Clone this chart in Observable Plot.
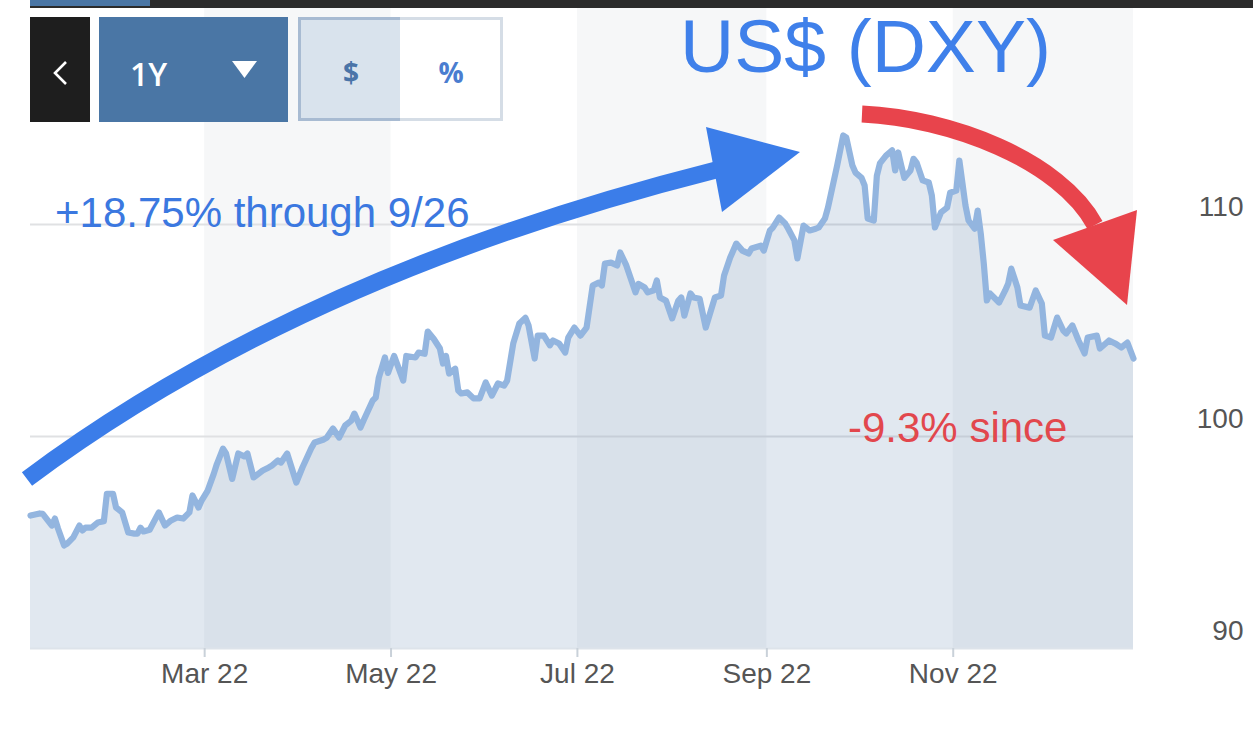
<!DOCTYPE html>
<html><head><meta charset="utf-8">
<script src="https://cdn.jsdelivr.net/npm/d3@7"></script>
<script src="https://cdn.jsdelivr.net/npm/@observablehq/plot@0.6"></script>
<style>
html,body{margin:0;padding:0;background:#fff;}
body{width:1253px;height:731px;overflow:hidden;position:relative;font-family:"Liberation Sans",Arial,sans-serif;}
#chart{position:absolute;left:0;top:0;}
#ann{position:absolute;left:0;top:0;}
.abs{position:absolute;box-sizing:border-box;}
</style></head><body>
<div id="chart"></div>
<svg id="ann" width="1253" height="731"></svg>
<div class="abs" style="left:30px;top:0;width:1223px;height:8px;background:#2b2b2b"></div>
<div class="abs" style="left:30px;top:0;width:120px;height:6px;background:#4a76a5"></div>
<div class="abs" style="left:30px;top:17px;width:60px;height:105px;background:#1e1e1e">
  <svg width="60" height="105"><polyline points="36,45 25,56 36,67" stroke="#fff" stroke-width="2.6" fill="none"/></svg>
</div>
<div class="abs" style="left:99px;top:17px;width:189px;height:105px;background:#4a76a5">
  <svg width="189" height="105">
    <text x="31" y="69" fill="#fff" font-family="Open Sans, sans-serif" font-weight="600" font-size="32">1Y</text>
    <polygon points="133,44 158,44 145.5,61" fill="#fff"/>
  </svg>
</div>
<div class="abs" style="left:298px;top:17px;width:102px;height:104px;background:#d9e3ed;border:3px solid #a8bbd2;border-right:none">
  <svg width="99" height="98" style="position:absolute;left:0;top:0"><text x="50" y="63" text-anchor="middle" fill="#4a74a8" font-family="Open Sans, sans-serif" font-weight="700" font-size="28">$</text></svg>
</div>
<div class="abs" style="left:400px;top:17px;width:103px;height:104px;background:#fff;border:3px solid #d5dde6;border-left:none">
  <svg width="100" height="98" style="position:absolute;left:0;top:0"><text x="51" y="63" text-anchor="middle" fill="#4a7dd0" font-family="Open Sans, sans-serif" font-weight="700" font-size="28">%</text></svg>
</div>
<script>
const dates = ["2022-01-03","2022-01-06","2022-01-07","2022-01-10","2022-01-11","2022-01-12","2022-01-14","2022-01-15","2022-01-17","2022-01-19","2022-01-20","2022-01-21","2022-01-23","2022-01-25","2022-01-27","2022-01-28","2022-01-30","2022-01-31","2022-02-02","2022-02-04","2022-02-06","2022-02-07","2022-02-08","2022-02-09","2022-02-11","2022-02-14","2022-02-16","2022-02-18","2022-02-20","2022-02-22","2022-02-24","2022-02-25","2022-02-27","2022-02-28","2022-03-02","2022-03-04","2022-03-05","2022-03-07","2022-03-08","2022-03-10","2022-03-12","2022-03-14","2022-03-15","2022-03-17","2022-03-20","2022-03-22","2022-03-23","2022-03-25","2022-03-26","2022-03-28","2022-03-31","2022-04-02","2022-04-05","2022-04-06","2022-04-09","2022-04-10","2022-04-12","2022-04-14","2022-04-16","2022-04-18","2022-04-19","2022-04-21","2022-04-22","2022-04-25","2022-04-26","2022-04-27","2022-04-29","2022-04-30","2022-05-02","2022-05-05","2022-05-06","2022-05-09","2022-05-10","2022-05-12","2022-05-13","2022-05-15","2022-05-17","2022-05-18","2022-05-19","2022-05-20","2022-05-22","2022-05-23","2022-05-24","2022-05-26","2022-05-28","2022-05-30","2022-06-01","2022-06-03","2022-06-05","2022-06-07","2022-06-08","2022-06-10","2022-06-12","2022-06-14","2022-06-15","2022-06-17","2022-06-18","2022-06-20","2022-06-22","2022-06-23","2022-06-25","2022-06-27","2022-06-28","2022-06-30","2022-07-02","2022-07-04","2022-07-06","2022-07-08","2022-07-09","2022-07-10","2022-07-12","2022-07-14","2022-07-15","2022-07-17","2022-07-20","2022-07-21","2022-07-23","2022-07-24","2022-07-26","2022-07-27","2022-07-28","2022-07-30","2022-08-01","2022-08-03","2022-08-04","2022-08-05","2022-08-07","2022-08-08","2022-08-10","2022-08-12","2022-08-15","2022-08-17","2022-08-18","2022-08-20","2022-08-22","2022-08-24","2022-08-26","2022-08-27","2022-08-30","2022-08-31","2022-09-02","2022-09-03","2022-09-05","2022-09-07","2022-09-08","2022-09-10","2022-09-11","2022-09-13","2022-09-15","2022-09-17","2022-09-18","2022-09-20","2022-09-21","2022-09-22","2022-09-24","2022-09-26","2022-09-27","2022-09-29","2022-09-30","2022-10-02","2022-10-03","2022-10-04","2022-10-06","2022-10-07","2022-10-08","2022-10-10","2022-10-12","2022-10-13","2022-10-14","2022-10-15","2022-10-16","2022-10-18","2022-10-19","2022-10-20","2022-10-22","2022-10-24","2022-10-25","2022-10-26","2022-10-28","2022-10-30","2022-10-31","2022-11-02","2022-11-03","2022-11-05","2022-11-06","2022-11-08","2022-11-09","2022-11-10","2022-11-11","2022-11-12","2022-11-13","2022-11-16","2022-11-18","2022-11-19","2022-11-20","2022-11-22","2022-11-23","2022-11-26","2022-11-28","2022-11-30","2022-12-01","2022-12-03","2022-12-05","2022-12-07","2022-12-08","2022-12-10","2022-12-12","2022-12-14","2022-12-15","2022-12-18","2022-12-19","2022-12-22","2022-12-24","2022-12-26","2022-12-28","2022-12-30"];
const values = [96.27,96.37,96.35,95.8,96.13,95.66,94.86,94.95,95.24,95.8,95.57,95.7,95.7,95.94,96.0,97.3,97.3,96.65,96.42,95.47,95.42,95.42,95.7,95.52,95.6,96.42,95.8,96.04,96.18,96.13,96.42,97.22,96.65,96.98,97.45,98.25,98.7,99.43,99.2,98.0,99.2,99.06,99.2,98.07,98.4,98.54,98.63,98.87,98.77,99.2,97.83,98.54,99.48,99.72,99.86,99.95,100.38,99.95,100.52,100.75,101.08,100.42,100.75,101.7,101.84,102.78,103.73,103.0,103.8,102.64,103.8,103.73,103.96,103.9,104.95,104.6,104.15,103.44,103.8,102.97,103.2,102.17,102.03,102.08,101.8,101.8,102.55,101.93,102.5,102.4,102.64,104.39,105.33,105.6,105.24,103.68,104.76,104.76,104.3,104.53,104.39,103.96,104.67,105.14,104.76,105.14,107.12,107.26,107.12,108.16,108.2,108.07,108.68,108.07,106.8,107.2,107.03,106.8,106.9,107.36,106.56,106.4,105.57,106.4,106.56,105.7,106.75,106.56,106.5,105.14,106.56,106.65,107.6,108.44,109.1,108.77,108.63,108.87,109.0,108.77,109.72,109.86,110.33,110.05,109.8,109.25,108.4,109.95,109.72,109.8,109.86,110.28,110.8,111.46,112.78,114.2,114.1,112.78,112.45,112.2,111.84,110.28,110.19,112.3,112.88,113.25,113.5,112.55,113.4,112.78,112.2,112.55,113.1,112.92,112.08,111.98,111.37,109.86,110.57,110.8,111.5,111.6,113.02,110.9,110.19,109.8,110.66,109.58,108.16,106.42,106.75,106.32,106.89,107.22,107.92,107.03,106.18,106.08,106.89,106.27,104.76,104.67,105.61,105.0,104.86,105.24,104.53,103.92,104.67,104.76,104.15,104.53,104.39,104.2,104.43,103.68];
const monthTicks = ["2022-03-01","2022-05-01","2022-07-01","2022-09-01","2022-11-01"];
const bandStarts = ["2022-03-01","2022-07-01","2022-11-01"];
const bandEnds = ["2022-05-01","2022-09-01","2022-12-30"];
const yTicks = [90,100,110];
const gridValues = [100,110];
const yDomain = [90,120.19];
const titleText = "US$ (DXY)";
const gainText = "+18.75% through 9/26";
const lossText = "-9.3% since";

const parse = d3.utcParse("%Y-%m-%d");
const data = dates.map((d,i)=>({date: parse(d), value: values[i]}));
const bands = bandStarts.map((s,i)=>({x1: parse(s), x2: parse(bandEnds[i])}));

const chart = Plot.plot({
  width:1253, height:731,
  marginTop:8, marginBottom:83, marginLeft:30, marginRight:120,
  style:{fontFamily:"Liberation Sans, Arial, sans-serif", fontSize:"28px", background:"transparent", overflow:"visible"},
  x:{type:"utc", domain:[data[0].date, data[data.length-1].date], label:null},
  y:{domain:yDomain, label:null},
  marks:[
    Plot.rect(bands,{x1:"x1", x2:"x2", fill:"#f6f7f8"}),
    Plot.ruleY(gridValues,{stroke:"#e0e1e3", strokeWidth:2}),
    Plot.areaY(data,{x:"date", y1:yDomain[0], y2:"value", fill:"rgb(70,110,160)", fillOpacity:0.16}),
    Plot.ruleY([yDomain[0]],{stroke:"#dde3ea", strokeWidth:2}),
    Plot.lineY(data,{x:"date", y:"value", stroke:"#93b5df", strokeWidth:6.2, strokeLinejoin:"round", strokeLinecap:"round"}),
    Plot.axisX({ticks:monthTicks.map(parse), tickFormat:d3.utcFormat("%b %y"), tickSize:9, tickPadding:6, stroke:"#c9d1d9", strokeWidth:2, fill:"#555", fontSize:28, label:null}),
    Plot.axisY({anchor:"right", ticks:yTicks, tickSize:0, tickPadding:0, textAnchor:"end", dx:110, dy:-17, fill:"#555", fontSize:28, label:null})
  ]
});
document.getElementById("chart").appendChild(chart);

// annotation overlay
const ann = d3.select("#ann");
const blue = "#3b7de9", red = "#e8444c";
ann.append("path").attr("d","M27,479 Q300,275 716,170").attr("stroke",blue).attr("stroke-width",17).attr("fill","none");
ann.append("polygon").attr("points","706,127 800,152 722,212").attr("fill",blue);
ann.append("path").attr("d","M862,114 C950,118 1060,160 1095,225").attr("stroke",red).attr("stroke-width",17).attr("fill","none");
ann.append("polygon").attr("points","1053,240 1137,210 1127,305").attr("fill",red);
ann.append("text").attr("x",680).attr("y",72).attr("font-size",75).attr("fill","#3f80ea").attr("font-family","Liberation Sans, Arial, sans-serif").text(titleText);
ann.append("text").attr("x",55).attr("y",227).attr("font-size",42).attr("fill","#3b78e0").attr("font-family","Liberation Sans, Arial, sans-serif").text(gainText);
ann.append("text").attr("x",848).attr("y",442).attr("font-size",42).attr("fill","#e2474d").attr("font-family","Liberation Sans, Arial, sans-serif").text(lossText);
</script>
</body></html>
